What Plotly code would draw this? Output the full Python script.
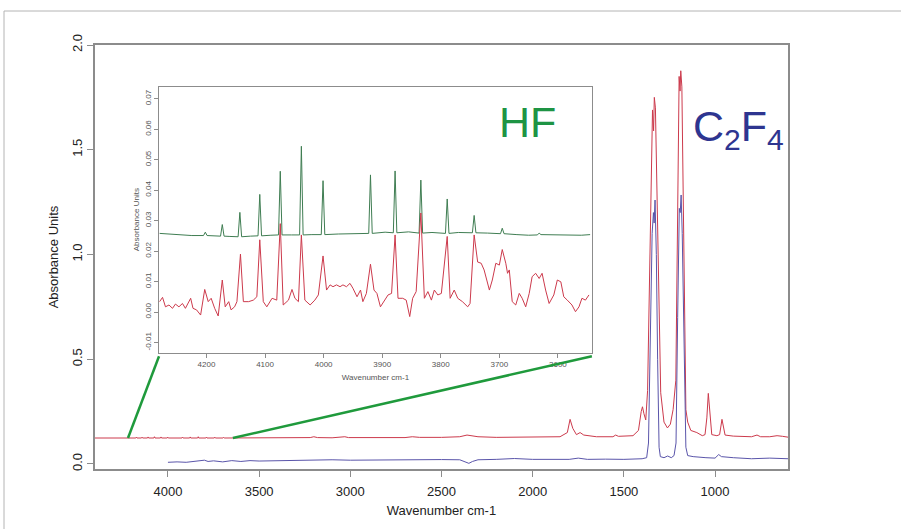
import plotly.graph_objects as go

# ---------------- main spectrum data ----------------
RED_WN = [4400, 4250, 4205, 4202, 4199, 4176, 4173, 4170, 4145, 4142, 4139, 4112, 4109, 4106,
          4077, 4074, 4071, 4041, 4038, 4035, 4004, 4001, 3998, 3923, 3920, 3917, 3881, 3878, 3875,
          3837, 3834, 3831, 3792, 3789, 3786, 3746, 3743, 3740, 3698, 3695, 3692, 3600,
          3300, 3220, 3200, 3180, 3100, 3050, 3030, 3010, 2900, 2700, 2660, 2620, 2500, 2400,
          2360, 2340, 2300, 2200, 2100, 2000, 1900, 1850, 1810, 1795, 1780, 1760, 1740, 1720,
          1650, 1560, 1545, 1530, 1450, 1420, 1405, 1398, 1390, 1380, 1370, 1362, 1352, 1343,
          1337, 1333, 1327, 1318, 1308, 1298, 1280, 1261, 1245, 1230, 1215, 1206, 1197, 1192,
          1188, 1182, 1172, 1160, 1150, 1133, 1100, 1070, 1055, 1045, 1037, 1028, 1018, 990,
          975, 962, 950, 945, 900, 850, 800, 770, 750, 700, 660, 630, 600]
RED_ABS = [0.124, 0.124, 0.124, 0.127, 0.124, 0.124, 0.128, 0.124, 0.124, 0.128, 0.124, 0.124, 0.129, 0.124,
           0.124, 0.130, 0.124, 0.124, 0.129, 0.124, 0.124, 0.128, 0.124, 0.124, 0.128, 0.124, 0.124, 0.129, 0.124,
           0.124, 0.130, 0.124, 0.124, 0.128, 0.124, 0.124, 0.128, 0.124, 0.124, 0.127, 0.124, 0.124,
           0.124, 0.126, 0.130, 0.126, 0.125, 0.128, 0.130, 0.126, 0.125, 0.126, 0.130, 0.127, 0.127, 0.130,
           0.138, 0.135, 0.130, 0.127, 0.128, 0.126, 0.127, 0.130, 0.150, 0.213, 0.170, 0.140, 0.150, 0.138,
           0.130, 0.130, 0.138, 0.132, 0.135, 0.160, 0.250, 0.273, 0.240, 0.210, 0.350, 0.800, 1.400, 1.690,
           1.590, 1.750, 1.700, 1.300, 0.700, 0.340, 0.200, 0.172, 0.190, 0.260, 0.400, 1.100, 1.850, 1.780,
           1.877, 1.800, 1.200, 0.260, 0.200, 0.160, 0.150, 0.135, 0.140, 0.220, 0.337, 0.240, 0.140, 0.135,
           0.140, 0.213, 0.150, 0.138, 0.133, 0.130, 0.130, 0.138, 0.130, 0.130, 0.135, 0.132, 0.128]

BLUE_WN = [4000, 3950, 3900, 3850, 3800, 3780, 3750, 3700, 3650, 3600, 3550, 3500, 3400, 3300,
           3200, 3100, 3000, 2900, 2800, 2700, 2600, 2500, 2400, 2370, 2350, 2330, 2300, 2200,
           2100, 2000, 1900, 1800, 1750, 1700, 1600, 1500, 1400, 1375, 1365, 1355, 1345, 1338,
           1334, 1329, 1322, 1315, 1307, 1300, 1280, 1260, 1240, 1225, 1214, 1205, 1196, 1191,
           1186, 1180, 1170, 1160, 1150, 1120, 1050, 1000, 980, 965, 900, 800, 700, 600]
BLUE_ABS = [0.008, 0.010, 0.008, 0.012, 0.018, 0.012, 0.015, 0.010, 0.016, 0.012, 0.016, 0.014, 0.016, 0.018,
            0.017, 0.020, 0.018, 0.019, 0.020, 0.021, 0.020, 0.021, 0.020, 0.010, 0.003, 0.012, 0.020, 0.022,
            0.026, 0.022, 0.023, 0.022, 0.028, 0.022, 0.023, 0.022, 0.025, 0.030, 0.100, 0.600, 1.100, 1.200,
            1.150, 1.260, 1.000, 0.500, 0.080, 0.035, 0.030, 0.038, 0.030, 0.040, 0.100, 0.700, 1.220, 1.200,
            1.284, 1.100, 0.500, 0.080, 0.040, 0.035, 0.030, 0.028, 0.045, 0.035, 0.030, 0.025, 0.028, 0.025]

# ---------------- inset (HF region) data ----------------
INSET_RED_WN = [4280, 4275, 4270, 4264, 4258, 4253, 4247, 4241, 4236, 4230, 4227, 4223, 4217, 4210,
                4203, 4197, 4192, 4186, 4180, 4173, 4168, 4162, 4158, 4152, 4148, 4142, 4137, 4128,
                4120, 4114, 4109, 4103, 4097, 4088, 4080, 4074, 4069, 4060, 4054, 4049, 4043, 4038,
                4032, 4023, 4015, 4009, 4001, 3995, 3989, 3984, 3978, 3972, 3967, 3961, 3955, 3950,
                3943, 3937, 3933, 3927, 3920, 3914, 3909, 3903, 3897, 3890, 3884, 3878, 3873, 3865,
                3859, 3853, 3848, 3842, 3834, 3828, 3822, 3816, 3811, 3805, 3799, 3789, 3784, 3777,
                3771, 3763, 3754, 3750, 3743, 3737, 3731, 3726, 3717, 3712, 3706, 3700, 3695, 3689,
                3686, 3683, 3678, 3672, 3666, 3661, 3655, 3649, 3644, 3638, 3632, 3627, 3621, 3615,
                3607, 3601, 3595, 3590, 3584, 3576, 3570, 3564, 3559, 3553, 3547]
INSET_RED_ABS = [0.0034, 0.0048, 0.0017, 0.0023, 0.0012, 0.0026, 0.0017, 0.0028, 0.0012, 0.0034, 0.0045, 0.0012, 0.0007, -0.0010,
                 0.0074, 0.0034, 0.0045, 0.0012, -0.0013, 0.0105, 0.0017, 0.0034, 0.0007, 0.0017, 0.0034, 0.0190, 0.0034, 0.0034,
                 0.0039, 0.0050, 0.0237, 0.0034, 0.0017, 0.0045, 0.0039, 0.0290, 0.0023, 0.0039, 0.0074, 0.0045, 0.0034, 0.0253,
                 0.0039, 0.0023, 0.0039, 0.0056, 0.0184, 0.0072, 0.0089, 0.0083, 0.0089, 0.0083, 0.0089, 0.0083, 0.0094, 0.0078,
                 0.0050, 0.0072, 0.0034, 0.0061, 0.0157, 0.0072, 0.0061, 0.0017, 0.0034, 0.0056, 0.0061, 0.0253, 0.0045, 0.0045,
                 0.0039, -0.0015, 0.0045, 0.0067, 0.0325, 0.0045, 0.0067, 0.0039, 0.0072, 0.0056, 0.0061, 0.0248, 0.0045, 0.0072,
                 0.0045, 0.0034, 0.0017, 0.0028, 0.0253, 0.0164, 0.0160, 0.0138, 0.0072, 0.0105, 0.0160, 0.0154, 0.0205, 0.0160,
                 0.0127, 0.0138, 0.0034, 0.0023, 0.0061, 0.0045, 0.0017, 0.0061, 0.0116, 0.0127, 0.0110, 0.0127, 0.0072, 0.0028,
                 0.0056, 0.0105, 0.0099, 0.0050, 0.0039, 0.0023, 0.0001, 0.0017, 0.0045, 0.0039, 0.0056]

INSET_GREEN_WN = [4280, 4250, 4225, 4205, 4202, 4199, 4190, 4176, 4173, 4170, 4160, 4146, 4143, 4140,
                  4125, 4112, 4109, 4106, 4090, 4077, 4074, 4071, 4055, 4041, 4038, 4035, 4020, 4004,
                  4001, 3998, 3975, 3950, 3923, 3920, 3917, 3895, 3881, 3878, 3875, 3855, 3837, 3834,
                  3831, 3815, 3800, 3792, 3789, 3786, 3770, 3746, 3743, 3740, 3720, 3698, 3695, 3692,
                  3670, 3650, 3635, 3632, 3629, 3600, 3575, 3560, 3545]
INSET_GREEN_ABS = [0.0258, 0.0254, 0.0251, 0.0251, 0.0262, 0.0251, 0.0250, 0.0249, 0.0287, 0.0249, 0.0248, 0.0247, 0.0327, 0.0247,
                   0.0249, 0.0250, 0.0386, 0.0250, 0.0252, 0.0253, 0.0462, 0.0253, 0.0253, 0.0253, 0.0544, 0.0253, 0.0254, 0.0254,
                   0.0431, 0.0254, 0.0256, 0.0258, 0.0258, 0.0450, 0.0258, 0.0262, 0.0260, 0.0463, 0.0260, 0.0263, 0.0259, 0.0433,
                   0.0259, 0.0261, 0.0259, 0.0258, 0.0371, 0.0258, 0.0261, 0.0260, 0.0317, 0.0260, 0.0259, 0.0257, 0.0275, 0.0257,
                   0.0254, 0.0252, 0.0253, 0.0259, 0.0254, 0.0253, 0.0254, 0.0252, 0.0254]

MAIN_X_TICKS = [4000, 3500, 3000, 2500, 2000, 1500, 1000]
MAIN_Y_TICKS = [0.0, 0.5, 1.0, 1.5, 2.0]
INSET_X_TICKS = [4200, 4100, 4000, 3900, 3800, 3700, 3600]
INSET_Y_TICKS = [-0.01, 0.00, 0.01, 0.02, 0.03, 0.04, 0.05, 0.06, 0.07]

# zoom region on the main red baseline (wavenumbers where connector lines start)
ZOOM_FROM_WN = [4219, 3644]
ZOOM_BASE_ABS = 0.124

# ---------------- layout geometry ----------------
W, H = 901, 529
ML, MR, MT, MB = 95, 113, 45, 60
MAIN_XR = [4400, 600]
MAIN_YR = [-0.024, 2.0]
INSET_XR = [4281, 3542]
INSET_YR = [-0.0134, 0.074]
INSET_DX = [0.0924, 0.717]
INSET_DY = [0.274, 0.902]

RED = "#cc3a4c"
BLUE = "#5a55aa"
GREEN_TR = "#3f7d52"
AXC = "#8c8c8c"
FONT = "Liberation Sans, Arial, sans-serif"

fig = go.Figure()
fig.add_trace(go.Scatter(x=RED_WN, y=RED_ABS, mode="lines", line=dict(color=RED, width=1),
                         xaxis="x", yaxis="y", showlegend=False, hoverinfo="skip"))
fig.add_trace(go.Scatter(x=BLUE_WN, y=BLUE_ABS, mode="lines", line=dict(color=BLUE, width=1),
                         xaxis="x", yaxis="y", showlegend=False, hoverinfo="skip"))
fig.add_trace(go.Scatter(x=INSET_GREEN_WN, y=INSET_GREEN_ABS, mode="lines", line=dict(color=GREEN_TR, width=1),
                         xaxis="x2", yaxis="y2", showlegend=False, hoverinfo="skip"))
fig.add_trace(go.Scatter(x=INSET_RED_WN, y=INSET_RED_ABS, mode="lines", line=dict(color=RED, width=1),
                         xaxis="x2", yaxis="y2", showlegend=False, hoverinfo="skip"))


def paper_to_main(px, py):
    x = MAIN_XR[0] + px * (MAIN_XR[1] - MAIN_XR[0])
    y = MAIN_YR[0] + py * (MAIN_YR[1] - MAIN_YR[0])
    return x, y


def px_x(p):
    return (p - ML) / (W - ML - MR)


def px_y(p):
    return ((H - MB) - p) / (H - MT - MB)


shapes = []
# outer frame
shapes.append(dict(type="rect", xref="paper", yref="paper",
                   x0=px_x(4), x1=px_x(915), y0=px_y(545), y1=px_y(11),
                   line=dict(color="#b4b4b4", width=1), layer="below"))
# connector lines from main baseline to inset corners
for wn, cx in zip(ZOOM_FROM_WN, INSET_DX):
    tx, ty = paper_to_main(cx, INSET_DY[0] - 0.008)
    shapes.append(dict(type="line", xref="x", yref="y", x0=wn, y0=ZOOM_BASE_ABS, x1=tx, y1=ty,
                       line=dict(color="#1f9a3c", width=2.5)))

fig.update_layout(
    width=W, height=H,
    margin=dict(l=ML, r=MR, t=MT, b=MB),
    paper_bgcolor="white", plot_bgcolor="white",
    font=dict(family=FONT, color="#222"),
    shapes=shapes,
    xaxis=dict(range=MAIN_XR, tickvals=MAIN_X_TICKS, ticktext=[str(v) for v in MAIN_X_TICKS],
               showgrid=False, zeroline=False, showline=True, mirror=True, linecolor=AXC, linewidth=1.5,
               ticks="outside", ticklen=6, tickcolor=AXC, tickfont=dict(size=13, color="#222"),
               ticklabelstandoff=4,
               title=dict(text="Wavenumber cm-1", font=dict(size=13, color="#222"), standoff=8)),
    yaxis=dict(range=MAIN_YR, tickvals=MAIN_Y_TICKS, ticktext=[f"{v:.1f}" for v in MAIN_Y_TICKS],
               tickangle=-90,
               showgrid=False, zeroline=False, showline=True, mirror=True, linecolor=AXC, linewidth=1.5,
               ticks="outside", ticklen=6, tickcolor=AXC, tickfont=dict(size=13, color="#222"),
               title=dict(text="Absorbance Units", font=dict(size=13, color="#222"), standoff=8)),
    xaxis2=dict(domain=INSET_DX, anchor="y2", range=INSET_XR, tickvals=INSET_X_TICKS,
                ticktext=[str(v) for v in INSET_X_TICKS],
                showgrid=False, zeroline=False, showline=True, mirror=True, linecolor=AXC, linewidth=1,
                ticks="outside", ticklen=4, tickcolor=AXC, tickfont=dict(size=8, color="#555"),
                title=dict(text="Wavenumber cm-1", font=dict(size=8, color="#555"), standoff=5)),
    yaxis2=dict(domain=INSET_DY, anchor="x2", range=INSET_YR, tickvals=INSET_Y_TICKS,
                ticktext=[f"{v:.2f}" for v in INSET_Y_TICKS], tickangle=-90,
                showgrid=False, zeroline=False, showline=True, mirror=True, linecolor=AXC, linewidth=1,
                ticks="outside", ticklen=4, tickcolor=AXC, tickfont=dict(size=8, color="#555"),
                title=dict(text="Absorbance Units", font=dict(size=8, color="#555"), standoff=3)),
    annotations=[
        dict(text="HF", xref="paper", yref="paper",
             x=px_x(497), y=px_y(122), xanchor="left", yanchor="middle",
             showarrow=False, font=dict(size=43, color="#1e9444", family=FONT)),
        dict(text="C<sub>2</sub>F<sub>4</sub>", xref="paper", yref="paper",
             x=px_x(691), y=px_y(129), xanchor="left", yanchor="middle",
             showarrow=False, font=dict(size=43, color="#2e3590", family=FONT)),
    ],
)

fig.write_html("out.html")
